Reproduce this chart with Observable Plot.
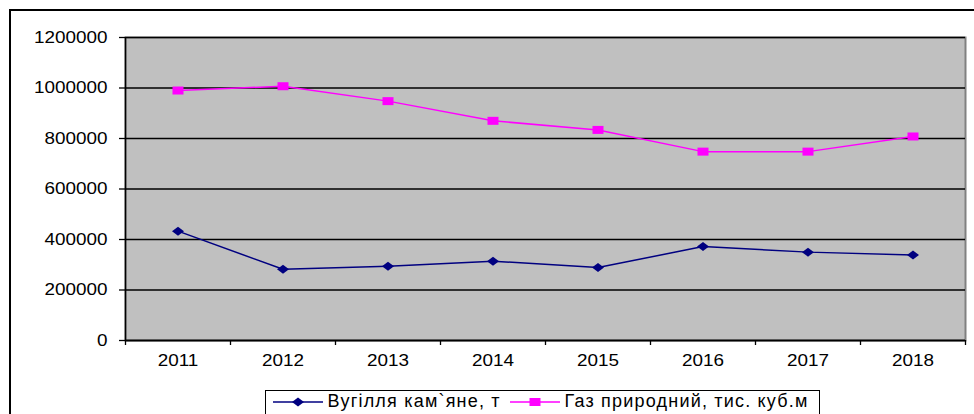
<!DOCTYPE html>
<html>
<head>
<meta charset="utf-8">
<script src="https://cdn.jsdelivr.net/npm/d3@7"></script>
<script src="https://cdn.jsdelivr.net/npm/@observablehq/plot@0.6"></script>
<style>
  body { margin: 0; background: #fff; }
  #wrap { position: relative; width: 974px; height: 414px; overflow: hidden; background: #fff; }
  #border { position: absolute; left: 9px; top: 9px; width: 1200px; height: 1200px; border-left: 2px solid #000; border-top: 2px solid #000; }
  #chart { position: absolute; left: 0; top: 0; }
  #legend { position: absolute; left: 265px; top: 390px; width: 553px; height: 40px; border: 1.5px solid #000; background: #fff;
            font-family: "Liberation Sans", Arial, sans-serif; font-size: 18px; letter-spacing: 1.2px; color: #000; }
  .item { position: absolute; top: 0px; display: flex; align-items: center; white-space: nowrap; }
  .item svg { margin-right: 5px; }
</style>
</head>
<body>
<div id="wrap">
  <div id="border"></div>
  <div id="chart"></div>
  <div id="legend"></div>
</div>
<script>
const years = ["2011", "2012", "2013", "2014", "2015", "2016", "2017", "2018"];
const coal = [433000, 282000, 294000, 314000, 289000, 372000, 350000, 339000];
const gas = [990000, 1007000, 948000, 870000, 834000, 748000, 748000, 808000];
const yTicks = [0, 200000, 400000, 600000, 800000, 1000000, 1200000];
const seriesNames = ["Вугілля кам`яне, т", "Газ природний, тис. куб.м"];
const seriesColors = ["#000080", "#ff00ff"];

const data = years.map((y, i) => ({ i, year: y, coal: coal[i], gas: gas[i] }));

const diamond = { draw(ctx) { ctx.moveTo(-6, 0); ctx.lineTo(0, -4.5); ctx.lineTo(6, 0); ctx.lineTo(0, 4.5); ctx.closePath(); } };
const square = { draw(ctx) { ctx.rect(-5.5, -4, 11, 8); } };

const chart = Plot.plot({
  width: 974,
  height: 380,
  marginLeft: 125,
  marginRight: 9,
  marginTop: 37,
  marginBottom: 40,
  x: { type: "linear", domain: [0, years.length] },
  y: { domain: [0, 1200000] },
  style: { fontFamily: "'Liberation Sans', Arial, sans-serif", fontSize: "16px", background: "transparent", color: "#000" },
  marks: [
    Plot.frame({ fill: "#c0c0c0", stroke: "#808080", strokeWidth: 2 }),
    Plot.gridY(yTicks, { stroke: "#000", strokeOpacity: 1, strokeWidth: 1.3 }),
    Plot.axisY({ ticks: yTicks, tickFormat: d => String(d), tickSize: 6, tickPadding: 12, label: null, stroke: "#000", strokeWidth: 1.3, fontSize: 16 }),
    Plot.axisX({ ticks: d3.range(years.length + 1), tickSize: 5, tickFormat: () => "", label: null, stroke: "#000", strokeWidth: 1.3 }),
    Plot.axisX({ ticks: years.map((_, i) => i + 0.5), tickSize: 0, tickPadding: 14, tickFormat: v => years[Math.floor(v)], label: null, fontSize: 16 }),
    Plot.ruleX([0], { stroke: "#000", strokeWidth: 1.5 }),
    Plot.ruleY([0], { stroke: "#000", strokeWidth: 1.5 }),
    Plot.line(data, { x: d => d.i + 0.5, y: "coal", stroke: seriesColors[0], strokeWidth: 1.5 }),
    Plot.dot(data, { x: d => d.i + 0.5, y: "coal", symbol: diamond, fill: seriesColors[0], stroke: "none" }),
    Plot.line(data, { x: d => d.i + 0.5, y: "gas", stroke: seriesColors[1], strokeWidth: 1.5 }),
    Plot.dot(data, { x: d => d.i + 0.5, y: "gas", symbol: square, fill: seriesColors[1], stroke: "none" })
  ]
});
// widen tick label glyphs horizontally, as in the reference
chart.querySelectorAll("text").forEach(el => {
  const t = el.getAttribute("transform");
  if (t) el.setAttribute("transform", t + " scale(1.18,1)");
  else {
    const x = +el.getAttribute("x") || 0;
    el.setAttribute("transform", `translate(${x},0) scale(1.18,1) translate(${-x},0)`);
  }
});
document.getElementById("chart").appendChild(chart);

// Legend
const legend = document.getElementById("legend");
const lefts = [6.5, 243.5];
const markerPaths = ["M-6,0L0,-4.5L6,0L0,4.5Z", "M-5.5,-4h11v8h-11Z"];
seriesNames.forEach((name, k) => {
  const item = document.createElement("div");
  item.className = "item";
  item.style.left = lefts[k] + "px";
  item.innerHTML = `<svg width="50" height="14" viewBox="-25 -7 50 14"><line x1="-25" x2="25" y1="0" y2="0" stroke="${seriesColors[k]}" stroke-width="1.5"/><path d="${markerPaths[k]}" fill="${seriesColors[k]}"/></svg><span>${name}</span>`;
  legend.appendChild(item);
});
</script>
</body>
</html>
